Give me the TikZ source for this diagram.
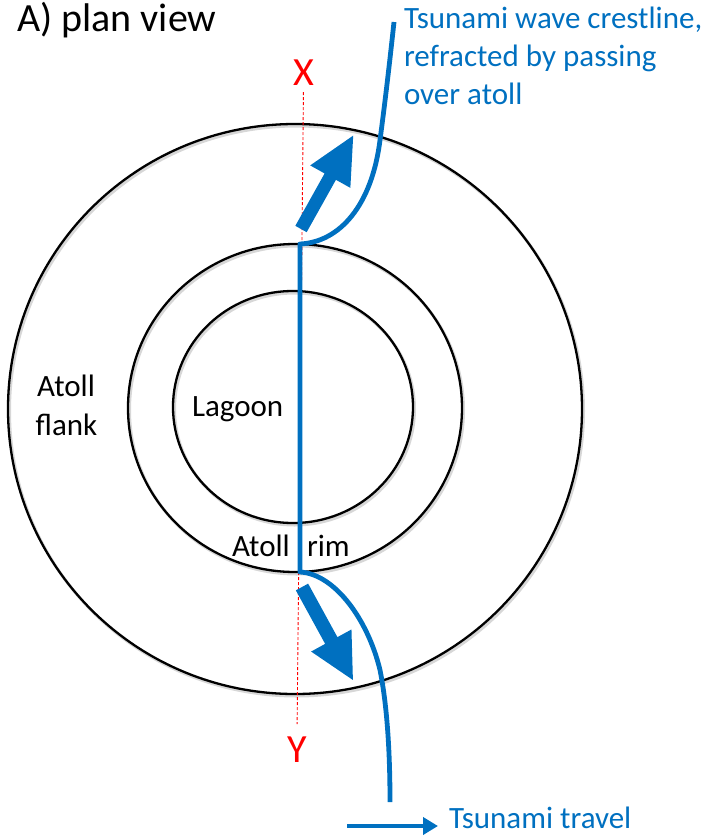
\documentclass[tikz,border=0pt]{standalone}
\usepackage{fontspec}
\setmainfont{Carlito}
\usetikzlibrary{arrows.meta,shapes.geometric}
\definecolor{wave}{RGB}{0,112,192}
\definecolor{secred}{RGB}{255,0,0}
\begin{document}
\begin{tikzpicture}[x=1pt,y=-1pt,
  ring/.style={draw=black, line width=2.3pt, ellipse, inner sep=0pt, outer sep=0pt},
  ringshade/.style={draw=black!35, line width=3pt, opacity=0.45},
  txt/.style={font=\fontsize{31}{36}\selectfont, inner sep=0pt, outer sep=0pt},
  bluetxt/.style={txt, text=wave},
  bigtxt/.style={font=\fontsize{40}{48}\selectfont, inner sep=0pt},
  secmark/.style={font=\fontsize{40}{46}\selectfont, text=secred, inner sep=0pt},
  crest/.style={draw=wave, line width=4.8pt, line join=round},
  fatarrow/.style={fill=wave},
  section/.style={draw=secred, line width=0.9pt, dash pattern=on 3pt off 2pt},
  travelarrow/.style={draw=wave, line width=4pt, -{Triangle[length=15pt,width=17pt]}}
]
\useasboundingbox (0,0) rectangle (715,836);

% soft shadows under the rings
\draw[ringshade] (296.5,411) ellipse [x radius=287, y radius=285];
\draw[ringshade] (296.5,410) ellipse [x radius=167, y radius=164];
\draw[ringshade] (294.5,409) ellipse [x radius=120, y radius=116];

% atoll flank, rim and lagoon outlines
\node[ring, minimum width=574pt, minimum height=570pt] (flank) at (295,409) {};
\node[ring, minimum width=334pt, minimum height=328pt] (rim) at (295,408) {};
\node[ring, minimum width=240pt, minimum height=232pt] (lagoon) at (293,407) {};

% section line X--Y
\node[secmark, anchor=base] (X) at (303.5,85) {X};
\node[secmark, anchor=base] (Y) at (297,762) {Y};
\draw[section, shorten <=7pt, shorten >=12pt] (X.south) -- (Y.north);

% refracted wave crestline
\coordinate (crestTop) at (394,22);
\coordinate (rimTop) at (300,244);
\coordinate (rimBot) at (300,572);
\coordinate (crestBot) at (390,802);
\draw[crest] (crestTop) .. controls (391,50) and (386,95) .. (380,140)
  .. controls (372,205) and (340,242) .. (rimTop)
  -- (rimBot)
  .. controls (335,574) and (368,620) .. (380,670)
  .. controls (388,710) and (390,760) .. (crestBot);

% direction of the refracted wave on each side
\begin{scope}[shift={(301,229)}, rotate=60.8]
  \fill[fatarrow] (0,-6.5) -- (60,-6.5) -- (60,-23) -- (107,0) -- (60,23) -- (60,6.5) -- (0,6.5) -- cycle;
\end{scope}
\begin{scope}[shift={(302,587)}, rotate=-61.3]
  \fill[fatarrow] (0,-7) -- (61,-7) -- (61,-23) -- (106,0) -- (61,23) -- (61,7) -- (0,7) -- cycle;
\end{scope}

% labels
\node[bigtxt, anchor=base west] (title) at (17,31) {A) plan view};
\node[bluetxt, anchor=base west] (crestA) at (404,28) {Tsunami wave crestline,};
\node[bluetxt, anchor=base west] (crestB) at (404,66) {refracted by passing};
\node[bluetxt, anchor=base west] (crestC) at (404,104) {over atoll};
\node[txt, anchor=base] (flankA) at (66,396) {Atoll};
\node[txt, anchor=base] (flankB) at (66.5,435) {flank};
\node[txt, anchor=base west] (lagoonLbl) at (192,416) {Lagoon};
\node[txt, anchor=base west] (rimA) at (232,556) {Atoll};
\node[txt, anchor=base west] (rimB) at (307,556) {rim};

% travel direction
\node[bluetxt, anchor=base west] (travel) at (449,828) {Tsunami travel};
\coordinate (travelTail) at (347,826);
\draw[travelarrow, shorten >=11pt] (travelTail) -- (travelTail -| travel.west);
\end{tikzpicture}
\end{document}
